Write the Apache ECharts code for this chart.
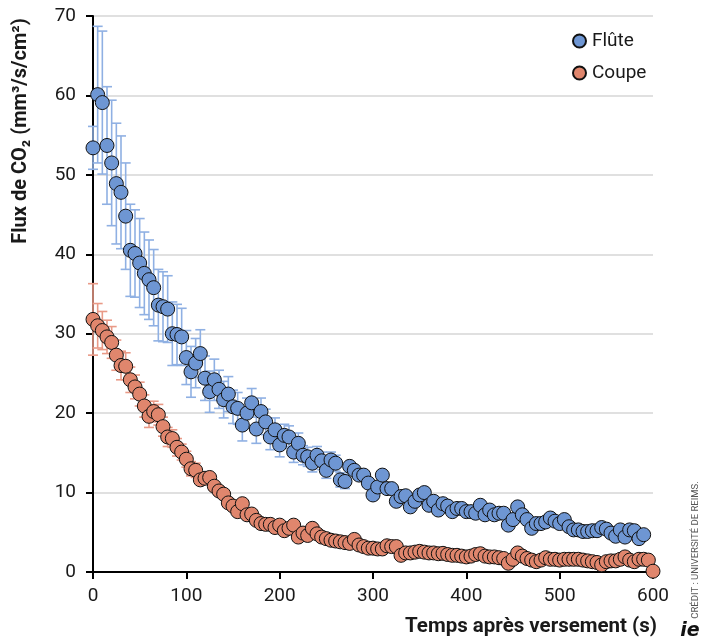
<!DOCTYPE html>
<html>
<head>
<meta charset="utf-8">
<script src="https://cdn.jsdelivr.net/npm/echarts@6/dist/echarts.min.js"></script>
<style>
html,body{margin:0;padding:0;background:#fff;}
#chart{width:710px;height:642px;}
</style>
</head>
<body>
<div id="chart"></div>
<script>
// ---- Data ----
const xTicks = [0, 100, 200, 300, 400, 500, 600];
const yTicks = [0, 10, 20, 30, 40, 50, 60, 70];

const fluteTime = [
  0,5,10,15,20,25,30,35,40,45,50,55,60,65,70,75,80,85,90,95,
  100,105,110,115,120,125,130,135,140,145,150,155,160,165,170,175,180,185,190,195,
  200,205,210,215,220,225,230,235,240,245,250,255,260,265,270,275,280,285,290,295,
  300,305,310,315,320,325,330,335,340,345,350,355,360,365,370,375,380,385,390,395,
  400,405,410,415,420,425,430,435,440,445,450,455,460,465,470,475,480,485,490,495,
  500,505,510,515,520,525,530,535,540,545,550,555,560,565,570,575,580,585,590
];
const fluteFlux = [
  53.4,60.1,59.1,53.7,51.5,48.9,47.8,44.8,40.5,40.1,38.9,37.6,36.8,35.8,33.6,33.4,33.1,30.0,29.9,29.6,
  27.0,25.2,26.3,27.5,24.4,22.7,24.2,23.0,21.7,22.4,20.8,20.6,18.5,20.0,21.3,18.0,20.2,18.9,17.0,17.9,
  16.0,17.2,17.0,15.1,16.2,14.7,14.5,13.7,14.7,14.0,12.8,14.1,13.7,11.6,11.4,13.3,12.8,12.2,12.2,11.2,
  9.7,10.7,12.2,10.5,10.5,8.9,9.5,9.6,8.2,8.9,9.7,10.0,8.4,8.9,7.8,8.6,8.3,7.6,8.0,8.0,
  7.6,7.6,7.4,8.4,7.2,7.8,7.2,7.4,7.4,5.9,6.6,8.2,7.2,6.6,5.5,6.1,6.1,6.3,6.8,6.4,
  6.1,6.6,5.7,5.3,5.3,5.1,5.1,5.2,5.2,5.6,5.4,4.9,4.5,5.3,4.4,5.3,5.2,4.2,4.7
];
const fluteErr = [
  2.7,8.6,9.0,7.4,7.9,7.6,7.1,6.7,5.8,5.5,5.6,5.2,5.0,4.8,4.5,4.4,4.2,4.0,3.8,3.6,
  3.4,3.2,3.1,3.0,2.8,2.6,2.6,2.4,2.3,2.2,2.1,2.0,2.0,1.9,1.8,1.8,1.7,1.6,1.6,1.5,
  1.5,1.4,1.4,1.3,1.3,1.2,1.2,1.1,1.1,1.1,1.0,1.0,1.0,0.9,0.9
];

const coupeTime = [
  0,5,10,15,20,25,30,35,40,45,50,55,60,65,70,75,80,85,90,95,
  100,105,110,115,120,125,130,135,140,145,150,155,160,165,170,175,180,185,190,195,
  200,205,210,215,220,225,230,235,240,245,250,255,260,265,270,275,280,285,290,295,
  300,305,310,315,320,325,330,335,340,345,350,355,360,365,370,375,380,385,390,395,
  400,405,410,415,420,425,430,435,440,445,450,455,460,465,470,475,480,485,490,495,
  500,505,510,515,520,525,530,535,540,545,550,555,560,565,570,575,580,585,590,595,600
];
const coupeFlux = [
  31.8,31.0,30.4,29.6,28.9,27.3,26.0,25.9,24.2,23.3,22.4,20.9,19.6,20.2,19.8,18.3,17.0,16.8,15.7,15.1,
  14.2,13.0,12.8,11.6,11.8,11.9,10.8,10.2,9.8,8.7,8.3,7.6,8.6,7.2,7.3,6.5,6.1,6.0,6.0,5.6,
  5.9,5.2,5.5,5.9,4.4,4.9,4.6,5.5,4.8,4.4,4.2,4.0,3.9,3.8,3.7,3.6,4.1,3.4,3.2,3.0,
  3.0,2.9,2.9,3.3,3.2,3.2,2.1,2.4,2.4,2.5,2.6,2.5,2.4,2.4,2.3,2.35,2.2,2.1,2.1,2.0,
  1.9,2.0,2.2,2.3,2.0,1.9,1.9,1.8,1.7,1.1,1.6,2.4,2.0,1.7,1.5,1.3,1.5,1.8,1.6,1.6,
  1.5,1.6,1.6,1.6,1.6,1.5,1.4,1.3,1.2,0.9,1.3,1.4,1.4,1.6,1.9,1.5,1.3,1.6,1.6,1.5,0.1
];
const coupeErr = [
  4.5,2.8,2.4,2.1,2.0,1.9,1.8,1.7,1.6,1.5,1.5,1.4,1.4,1.3,1.3,1.2,1.2,1.1,1.1,1.0,
  1.0,0.9,0.9
];

// ---- Styles ----
const FONT = 'Roboto';
const fluteColor = '#6e96d3';
const fluteErrColor = '#8fb0e3';
const coupeColor = '#e0866d';
const coupeErrColor = '#e99a87';

const fluteData = fluteTime.map((t, i) => [t, fluteFlux[i]]);
const coupeData = coupeTime.map((t, i) => [t, coupeFlux[i]]);
const fluteErrData = fluteErr.map((e, i) => [fluteTime[i], fluteFlux[i], e]);
const coupeErrData = coupeErr.map((e, i) => [coupeTime[i], coupeFlux[i], e]);

function errRenderer(color) {
  return function (params, api) {
    const x = api.value(0), y = api.value(1), e = api.value(2);
    const top = api.coord([x, y + e]);
    const bot = api.coord([x, y - e]);
    const w = 5;
    const st = { stroke: color, lineWidth: 1.6 };
    return {
      type: 'group',
      children: [
        { type: 'line', shape: { x1: top[0], y1: top[1], x2: bot[0], y2: bot[1] }, style: st },
        { type: 'line', shape: { x1: top[0] - w, y1: top[1], x2: top[0] + w, y2: top[1] }, style: st },
        { type: 'line', shape: { x1: bot[0] - w, y1: bot[1], x2: bot[0] + w, y2: bot[1] }, style: st }
      ]
    };
  };
}

const chart = echarts.init(document.getElementById('chart'), null, { renderer: 'canvas' });

chart.setOption({
  animation: false,
  backgroundColor: '#fff',
  textStyle: { fontFamily: FONT },
  grid: { left: 93, top: 16, width: 560, height: 556, containLabel: false },
  legend: {
    data: ['Flûte', 'Coupe'],
    orient: 'vertical',
    left: 567,
    top: 25,
    itemWidth: 13,
    itemHeight: 13,
    itemGap: 10,
    icon: 'circle',
    textStyle: { fontFamily: FONT, fontSize: 19, color: '#1a1a1a', padding: [0, 0, 0, 1], lineHeight: 22 }
  },
  xAxis: {
    type: 'value',
    min: 0, max: 600, interval: 100,
    axisLine: { show: true, onZero: false, lineStyle: { color: '#000', width: 2 } },
    axisTick: { show: true, length: 7, lineStyle: { color: '#000', width: 2 } },
    axisLabel: { fontFamily: FONT, fontSize: 19, color: '#1a1a1a', margin: 15,
      customValues: xTicks },
    splitLine: { show: false }
  },
  yAxis: {
    type: 'value',
    min: 0, max: 70, interval: 10,
    axisLine: { show: true, lineStyle: { color: '#000', width: 2 } },
    axisTick: { show: true, length: 7, lineStyle: { color: '#000', width: 2 } },
    axisLabel: { fontFamily: FONT, fontSize: 19, color: '#1a1a1a', margin: 17 },
    splitLine: { show: true, lineStyle: { color: '#d6d6d6', width: 1.5 } }
  },
  graphic: [
    {
      type: 'text', x: 21, y: 131, rotation: Math.PI / 2,
      style: { text: 'Flux de CO₂ (mm³/s/cm²)', fontFamily: FONT, fontWeight: 'bold', fontSize: 20,
        fill: '#1a1a1a', align: 'center', verticalAlign: 'middle' }
    },
    {
      type: 'text', x: 657, y: 627,
      style: { text: 'Temps après versement (s)', fontFamily: FONT, fontWeight: 'bold', fontSize: 20.5,
        fill: '#1a1a1a', align: 'right', verticalAlign: 'middle' }
    },
    {
      type: 'text', x: 696, y: 550, rotation: Math.PI / 2,
      style: { text: 'CRÉDIT : UNIVERSITÉ DE REIMS.', fontFamily: FONT, fontSize: 9.5,
        fill: '#555', align: 'center', verticalAlign: 'middle' }
    },
    {
      type: 'text', x: 690, y: 631,
      style: { text: 'ie', fontFamily: 'DejaVu Sans', fontWeight: 'bold', fontStyle: 'italic', fontSize: 19,
        fill: '#111', align: 'center', verticalAlign: 'middle' }
    }
  ],
  series: [
    {
      name: 'errFlute', type: 'custom', renderItem: errRenderer(fluteErrColor),
      data: fluteErrData, z: 1, silent: true,
      encode: { x: 0, y: 1 }
    },
    {
      name: 'errCoupe', type: 'custom', renderItem: errRenderer(coupeErrColor),
      data: coupeErrData, z: 1, silent: true,
      encode: { x: 0, y: 1 }
    },
    {
      name: 'Coupe', type: 'scatter', data: coupeData, symbol: 'circle', symbolSize: 14, z: 3,
      itemStyle: { color: coupeColor, borderColor: '#111', borderWidth: 1, opacity: 1 }
    },
    {
      name: 'Flûte', type: 'scatter', data: fluteData, symbol: 'circle', symbolSize: 14, z: 4,
      itemStyle: { color: fluteColor, borderColor: '#111', borderWidth: 1, opacity: 1 }
    }
  ]
});
</script>
</body>
</html>
